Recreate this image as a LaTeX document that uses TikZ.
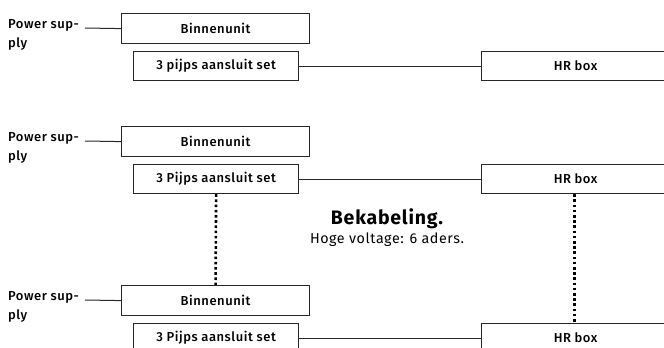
\documentclass[tikz,border=0pt]{standalone}
\usepackage{fontspec}
\setmainfont{Fira Sans}[LetterSpace=4]
\newfontfamily\firamed{Fira Sans Medium}[LetterSpace=4]
\begin{document}
\begin{tikzpicture}[x=1pt,y=-1pt,
  box/.style={draw=black!85,line width=1.2pt,inner sep=0pt,anchor=north west,font=\firamed\fontsize{13}{15}\selectfont},
  lbl/.style={anchor=north west,inner sep=0pt,align=left,font=\firamed\fontsize{13}{19}\selectfont},
  wire/.style={draw=black!85,line width=1pt},
  dots/.style={draw=black,line width=2.6pt,dash pattern=on 2.6pt off 2.6pt}]
\useasboundingbox (0,0) rectangle (664,348);
\clip (0,0) rectangle (664,348);
\foreach \g/\y/\t in {a/13/3 pijps aansluit set, b/126/3 Pijps aansluit set, c/285/3 Pijps aansluit set}{
  \node[box,minimum width=188pt,minimum height=30pt] (bin\g) at (121,\y) {Binnenunit};
  \node[lbl] (ps\g) at (8,\y+6) {Power sup-\\ply};
  \coordinate (pse\g) at (85,\y+15);
  \draw[wire] (pse\g) -- (bin\g.west);
  \node[box,minimum width=165pt,minimum height=29pt] (set\g) at (133,\y+38) {\t};
  \node[box,minimum width=188pt,minimum height=29pt] (hr\g) at (481,\y+38) {HR box};
  \draw[wire] (set\g.east) -- (hr\g.west);
}
\draw[dots] (setb.south) -- (binc.north);
\draw[dots] ([xshift=-1pt]hrb.south) -- ([xshift=-1pt]hrc.north);
\node[font=\bfseries\fontsize{19.5}{21}\selectfont,inner sep=0pt] (title) at (387,219) {Bekabeling.};
\node[font=\fontsize{14.3}{16}\selectfont,inner sep=0pt] (sub) at (387,240) {Hoge voltage: 6 aders.};
\end{tikzpicture}
\end{document}
